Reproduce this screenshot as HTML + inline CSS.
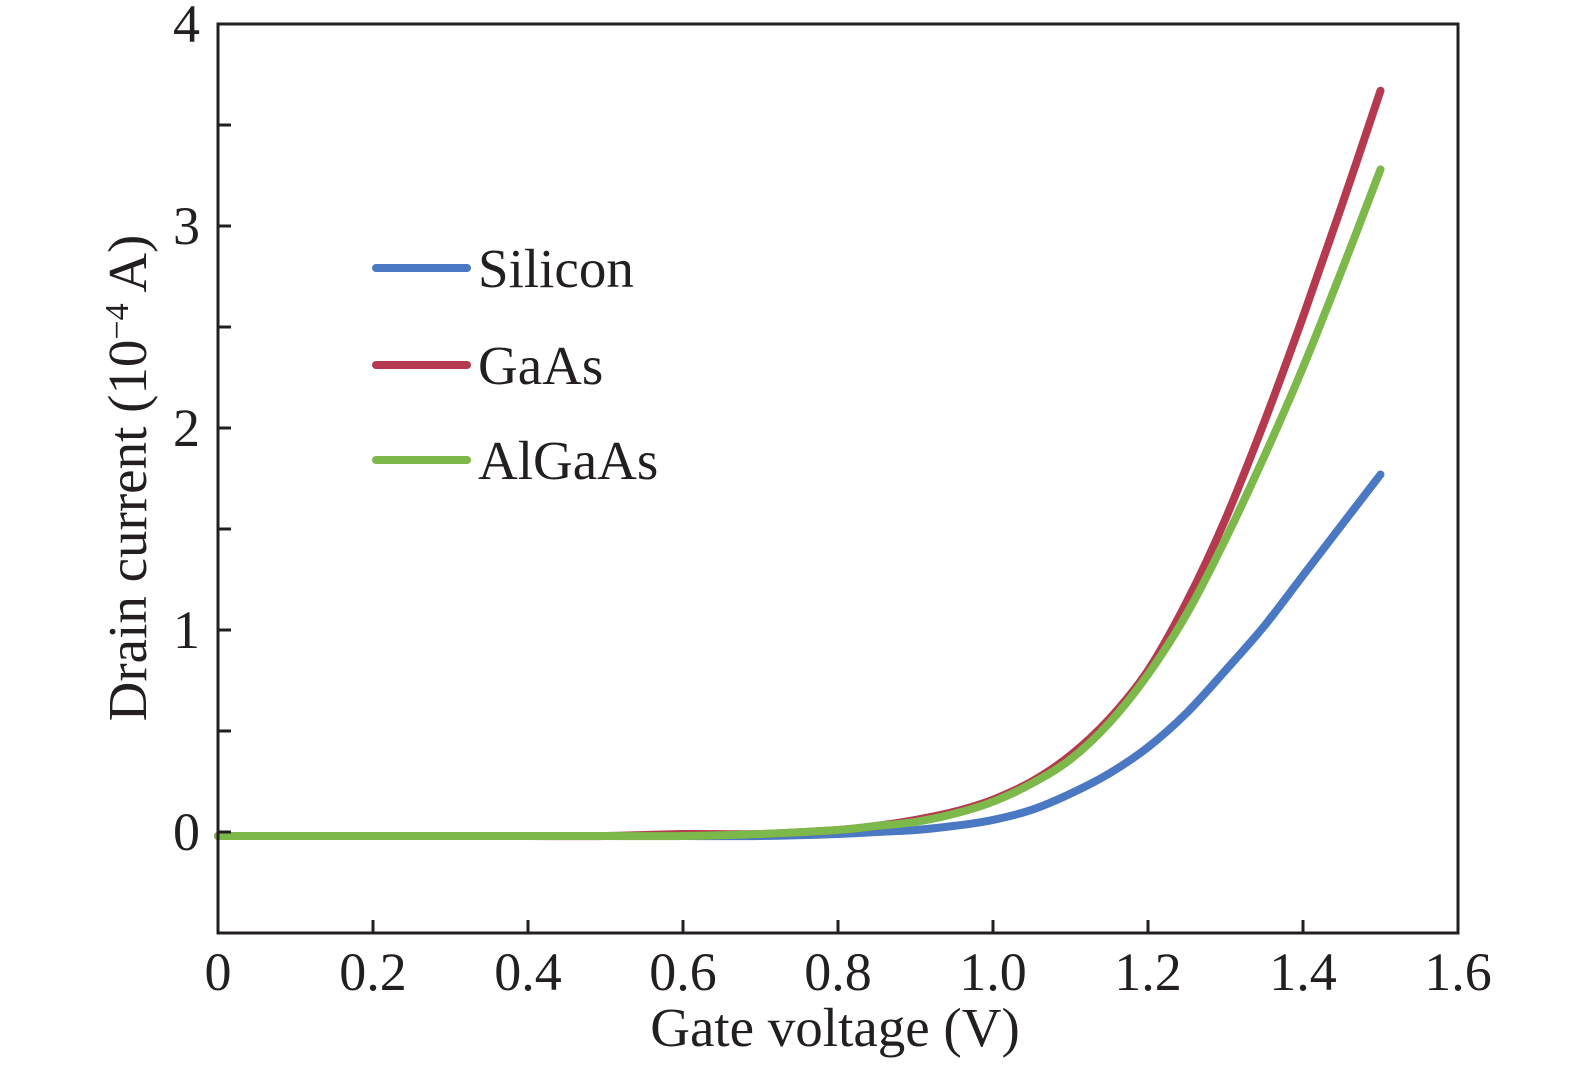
<!DOCTYPE html>
<html><head><meta charset="utf-8"><style>
body{margin:0;background:#fff}
svg text{font-family:"Liberation Serif",serif;fill:#231f20}
</style></head><body>
<svg width="1575" height="1068" viewBox="0 0 1575 1068">
<g id="plot"></g>
</svg>
<script>
const xTicks=[0,0.2,0.4,0.6,0.8,1.0,1.2,1.4,1.6];
const xTickLabels=["0","0.2","0.4","0.6","0.8","1.0","1.2","1.4","1.6"];
const yTicks=[-0.5,0,0.5,1,1.5,2,2.5,3,3.5,4];
const yTickLabels=["0","1","2","3","4"];
const yLabelVals=[0,1,2,3,4];
const xs=[0,0.1,0.2,0.3,0.4,0.5,0.6,0.7,0.8,0.85,0.9,0.95,1.0,1.05,1.1,1.15,1.2,1.25,1.3,1.35,1.4,1.45,1.5];
const silicon=[-0.02,-0.02,-0.02,-0.02,-0.02,-0.02,-0.02,-0.02,-0.01,0.0,0.01,0.03,0.06,0.11,0.19,0.29,0.42,0.59,0.8,1.02,1.27,1.52,1.77];
const gaas=[-0.02,-0.02,-0.02,-0.02,-0.02,-0.02,-0.01,-0.01,0.01,0.03,0.06,0.1,0.16,0.25,0.38,0.56,0.8,1.14,1.55,2.03,2.55,3.1,3.67];
const algaas=[-0.02,-0.02,-0.02,-0.02,-0.02,-0.02,-0.02,-0.01,0.01,0.03,0.05,0.09,0.15,0.24,0.36,0.54,0.78,1.08,1.45,1.86,2.3,2.78,3.28];
const X0=218,X1=1458,Y0=24,Y1=933,xmin=0,xmax=1.6,ymin=-0.5,ymax=4;
const sx=v=>X0+(v-xmin)/(xmax-xmin)*(X1-X0);
const sy=v=>Y1-(v-ymin)/(ymax-ymin)*(Y1-Y0);
const NS="http://www.w3.org/2000/svg";
const g=document.getElementById('plot');
function mk(t,a){const e=document.createElementNS(NS,t);for(const k in a)e.setAttribute(k,a[k]);g.appendChild(e);return e;}
function smooth(pts){
 let d='M'+pts[0][0].toFixed(1)+','+pts[0][1].toFixed(1);
 for(let i=0;i<pts.length-1;i++){
  const p0=pts[Math.max(0,i-1)],p1=pts[i],p2=pts[i+1],p3=pts[Math.min(pts.length-1,i+2)];
  const c1=[p1[0]+(p2[0]-p0[0])/6,p1[1]+(p2[1]-p0[1])/6];
  const c2=[p2[0]-(p3[0]-p1[0])/6,p2[1]-(p3[1]-p1[1])/6];
  d+='C'+c1.map(v=>v.toFixed(1)).join(',')+' '+c2.map(v=>v.toFixed(1)).join(',')+' '+p2.map(v=>v.toFixed(1)).join(',');
 }
 return d;
}
const series=[["silicon-line",silicon,"#4a78c2"],["gaas-line",gaas,"#b53a4f"],["algaas-line",algaas,"#7cb84a"]];
series.forEach(([n,d,c])=>{
 const p=mk('path',{d:smooth(xs.map((x,i)=>[sx(x),sy(d[i])])),fill:'none',stroke:c,'stroke-width':8,'stroke-linecap':'round','stroke-linejoin':'round'});
 
 
});
const f=mk('rect',{x:X0,y:Y0,width:X1-X0,height:Y1-Y0,fill:'none',stroke:'#231f20','stroke-width':3});


xTicks.forEach((v,i)=>{
 const l=mk('line',{x1:sx(v),x2:sx(v),y1:Y1,y2:Y1-13,stroke:'#231f20','stroke-width':3});
 
 
 const t=mk('text',{x:sx(v),y:990,'text-anchor':'middle','font-size':54});
 t.textContent=xTickLabels[i];
 
 
});
yTicks.forEach(v=>{
 const l=mk('line',{x1:X0,x2:X0+13,y1:sy(v),y2:sy(v),stroke:'#231f20','stroke-width':3});
 
 
});
yLabelVals.forEach((v,i)=>{
 const t=mk('text',{x:200,y:sy(v)+18,'text-anchor':'end','font-size':54});
 t.textContent=yTickLabels[i];
 
 
});
const xt=mk('text',{x:835,y:1046,'text-anchor':'middle','font-size':55});
xt.textContent='Gate voltage (V)';


const yt=mk('text',{x:0,y:0,'text-anchor':'middle','font-size':55,transform:'translate(146,478) rotate(-90)'});
yt.innerHTML='Drain current (10<tspan dy="-18" font-size="34">−4</tspan><tspan dy="18"> A)</tspan>';


const legend=[["Silicon","#4a78c2",268],["GaAs","#b53a4f",365],["AlGaAs","#7cb84a",460]];
legend.forEach(([n,c,y])=>{
 const l=mk('line',{x1:376,x2:467,y1:y,y2:y,stroke:c,'stroke-width':8,'stroke-linecap':'round'});
 
 
 const t=mk('text',{x:478,y:y+19,'font-size':55});
 t.textContent=n;
 
 
});
</script>
</body></html>
